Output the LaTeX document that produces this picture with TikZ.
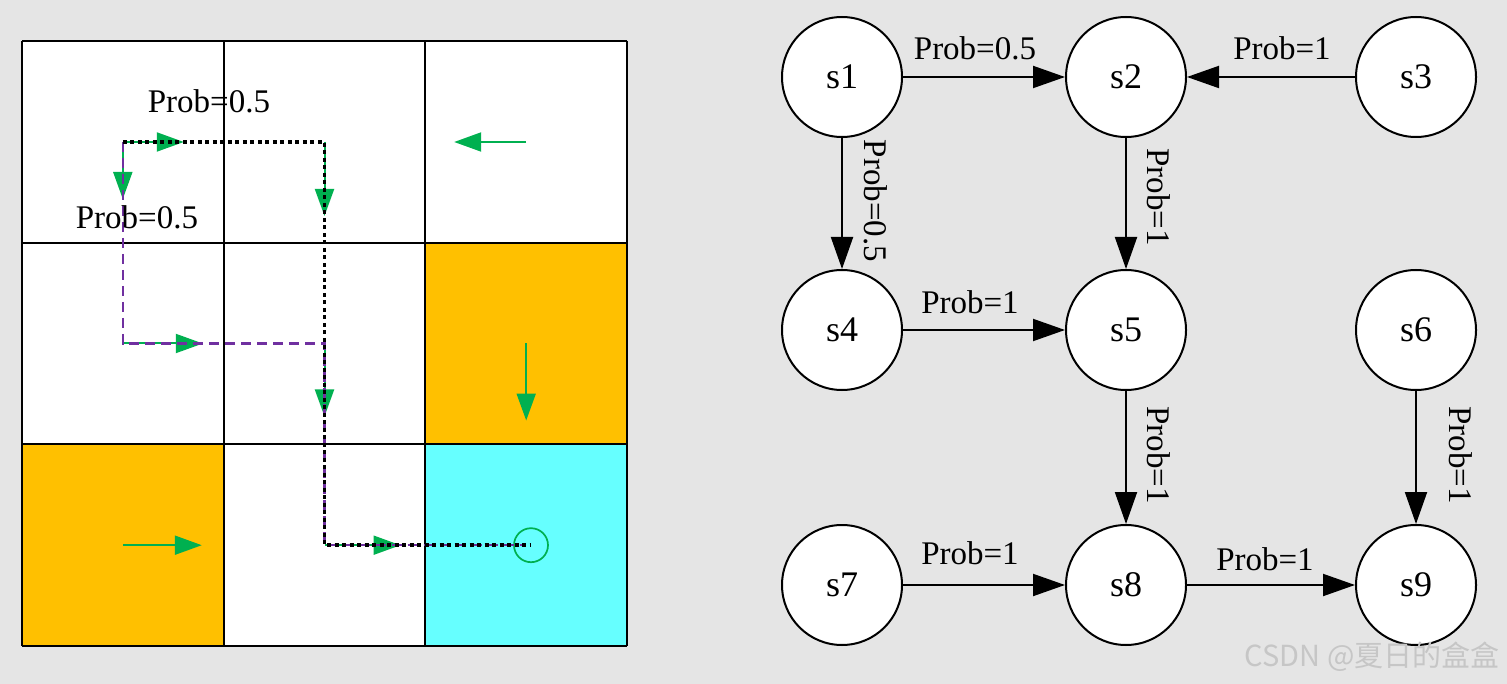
\documentclass[tikz,border=0pt]{standalone}
\usepackage{fontspec}
\setmainfont{Liberation Serif}
\newfontfamily\cjk{Noto Sans CJK SC}
\usetikzlibrary{arrows.meta}
\definecolor{bg}{RGB}{229,229,229}
\definecolor{orng}{RGB}{255,192,0}
\definecolor{cyn}{RGB}{102,255,255}
\definecolor{grn}{RGB}{0,176,80}
\definecolor{purp}{RGB}{112,48,160}
\definecolor{wm}{RGB}{198,198,198}
\tikzset{
  gridline/.style={line width=2pt, black},
  garrow/.style={grn, line width=2pt, -{Triangle[length=27pt,width=19pt]}},
  purpath/.style={purp, line width=2.2pt, dash pattern=on 10pt off 6pt},
  blkpath/.style={black, line width=3.5pt, dash pattern=on 4pt off 3.5pt},
  lab/.style={font=\fontsize{33}{36}\selectfont, inner sep=0pt},
  state/.style={circle, draw, line width=2pt, fill=white, minimum size=120pt, inner sep=0pt, font=\fontsize{36}{40}\selectfont},
  edge/.style={line width=2pt, -{Triangle[length=32pt,width=22pt]}},
}
\begin{document}
\begin{tikzpicture}[x=1pt,y=-1pt]
\fill[bg] (0,0) rectangle (1507,684);
\useasboundingbox (0,0) rectangle (1507,684);
% grid
\fill[white] (22,41) rectangle (627,646);
\fill[orng] (425.3,242.7) rectangle (627,444.3);
\fill[orng] (22,444.3) rectangle (223.7,646);
\fill[cyn] (425.3,444.3) rectangle (627,646);
\foreach \v in {22,223.7,425.3,627} {
  \draw[gridline] (\v,41) -- (\v,646);
  \draw[gridline] (22,\v+19) -- (627,\v+19);
}
% cell centres
\coordinate (c11) at (122.8,142);
\coordinate (c12) at (324.5,142);
\coordinate (c13) at (526.2,142);
\coordinate (c21) at (122.8,343.5);
\coordinate (c22) at (324.5,343.5);
\coordinate (c23) at (526.2,343.5);
\coordinate (c31) at (122.8,545.2);
\coordinate (c32) at (324.5,545.2);
\coordinate (c33) at (526.2,545.2);
\coordinate (goal) at (531,545.2);
\coordinate (pend) at (522,545.2);
% policy arrows
\draw[garrow] (c11) -- ++(61,0);
\draw[garrow] (c11) -- ++(0,57);
\draw[garrow] (c12) -- ++(0,74);
\draw[garrow] (c13) -- ++(-72,0);
\draw[garrow] (c21) -- ++(80,0);
\draw[garrow] (c22) -- ++(0,73);
\draw[garrow] (c23) -- ++(0,77);
\draw[garrow] (c31) -- ++(79,0);
\draw[garrow] (c32) -- ++(76,0);
\draw[grn, line width=1.7pt] (goal) circle (17);
% trajectories
\draw[purpath] (c11) -- (c21) -- (c22) -- (c32) -- (pend);
\draw[blkpath] (c11) -- (c12) -- (c32) -- (goal);
\node[lab] (la) at (209,101) {Prob=0.5};
\node[lab] (lb) at (137,217) {Prob=0.5};
% state graph
\node[state] (s1) at (842,77) {s1};
\node[state] (s2) at (1126,77) {s2};
\node[state] (s3) at (1416,77) {s3};
\node[state] (s4) at (842,330) {s4};
\node[state] (s5) at (1126,330) {s5};
\node[state] (s6) at (1416,330) {s6};
\node[state] (s7) at (842,585) {s7};
\node[state] (s8) at (1126,585) {s8};
\node[state] (s9) at (1416,585) {s9};
\draw[edge] (s1) -- (s2);
\draw[edge] (s3) -- (s2);
\draw[edge] (s1) -- (s4);
\draw[edge] (s2) -- (s5);
\draw[edge] (s4) -- (s5);
\draw[edge] (s5) -- (s8);
\draw[edge] (s6) -- (s9);
\draw[edge] (s7) -- (s8);
\draw[edge] (s8) -- (s9);
\node[lab] (l12) at (975,48) {Prob=0.5};
\node[lab] (l32) at (1282,48) {Prob=1};
\node[lab, rotate=-90] (l14) at (876,201) {Prob=0.5};
\node[lab, rotate=-90] (l25) at (1159,197) {Prob=1};
\node[lab] (l45) at (970,302) {Prob=1};
\node[lab, rotate=-90] (l58) at (1159,455) {Prob=1};
\node[lab, rotate=-90] (l69) at (1461,455) {Prob=1};
\node[lab] (l78) at (970,553) {Prob=1};
\node[lab] (l89) at (1265,559) {Prob=1};
% watermark
\node[text=wm, font=\cjk\fontsize{29}{31}\selectfont, inner sep=0pt] (wmk) at (1372,657) {CSDN @夏日的盒盒};
\end{tikzpicture}
\end{document}
